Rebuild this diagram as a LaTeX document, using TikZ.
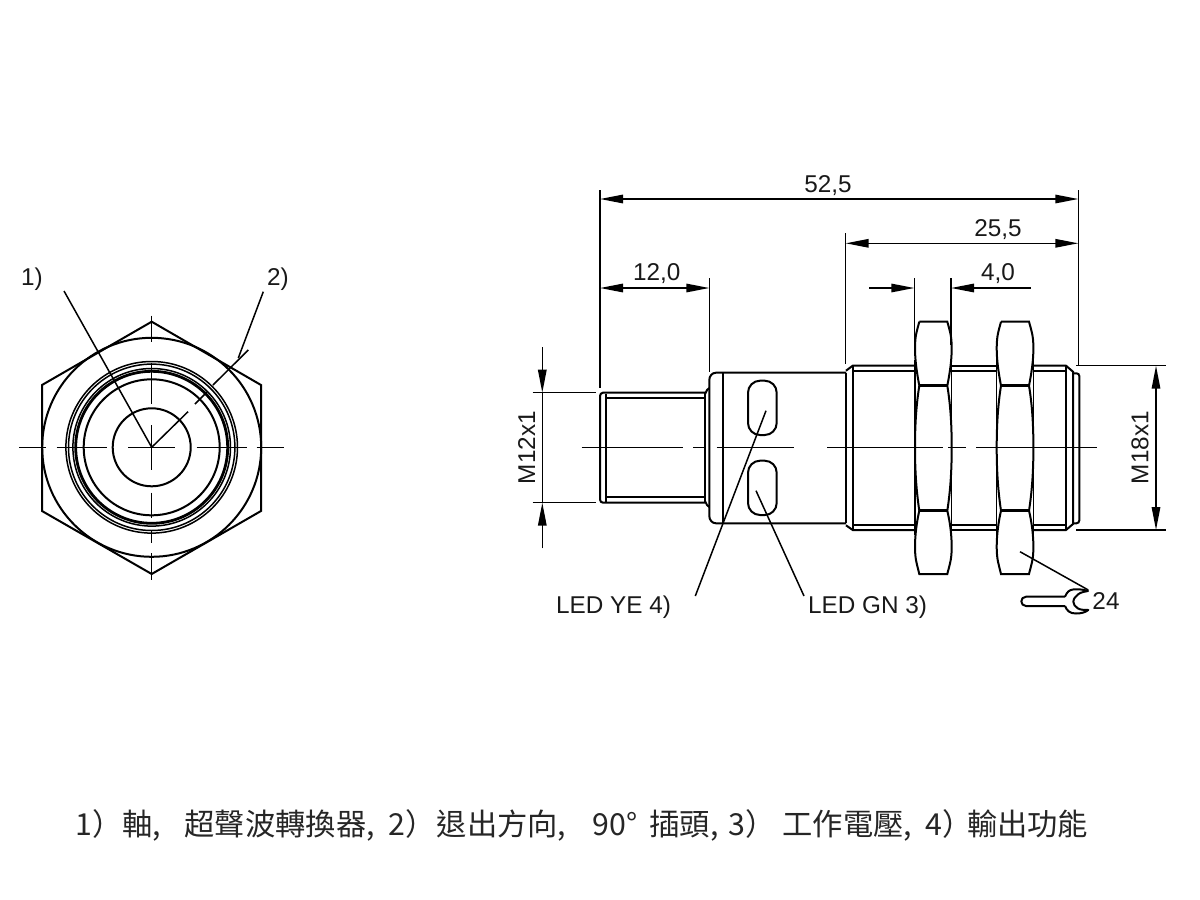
\documentclass[tikz,border=0pt]{standalone}
\usepackage{fontspec}
\usetikzlibrary{arrows.meta}
\setmainfont{Liberation Sans}
\newfontfamily\cjk{Noto Sans CJK TC}
\tikzset{
  thinl/.style={line width=1.5pt,black},
  outl/.style={line width=2pt,black},
  thick3/.style={line width=2.8pt,black},
  lab/.style={font=\fontsize{24.3}{24.3}\selectfont,text=black!90,inner sep=0pt},
  dimhead/.style={-{Triangle[length=23pt,width=8.5pt]}},
  dimboth/.style={{Triangle[length=23pt,width=8.5pt]}-{Triangle[length=23pt,width=8.5pt]}},
}
\begin{document}
\begin{tikzpicture}[x=1pt,y=-1pt]
\useasboundingbox (0,0) rectangle (1200,900);
\fill[white] (0,0) rectangle (1200,900);
% ---------- front view
\coordinate (c) at (151.7,447.3);
\draw[outl] (151.7,321.7)--(261,385)--(261,511)--(151.7,574)--(42,511)--(42,385)--cycle;
\draw[outl] (c) circle[radius=109.5];
\draw[thinl] (c) circle[radius=85.8];
\draw[thinl] (c) circle[radius=83.2];
\draw[thinl] (c) circle[radius=78.8];
\draw[thick3] (c) circle[radius=76];
\draw[outl] (c) circle[radius=68];
\draw[outl] (c) circle[radius=39];
\foreach \a/\b in {19/45.7,56.7/106.7,128/175,196.7/246.7,256.7/284}
  \draw[thinl] (\a,447.3)--(\b,447.3);
\foreach \a/\b in {315.7/341.7,362.7/404,425/470,492.7/518,530/542.7,553.3/580}
  \draw[thinl] (151.7,\a)--(151.7,\b);
\node[lab] (n1) at (32,279) {1)};
\node[lab] (n2) at (278,279) {2)};
\coordinate (n1e) at (64,291);
\coordinate (n2e) at (263.3,291.7);
\draw[thinl] (n1e)--(c);
\draw[thinl] (n2e)--(238.3,358);
\draw[thinl] (c)--(188,411.7);
\draw[thinl] (195,404)--(207,392);
\draw[thinl] (213,385)--(248.3,350);
% ---------- side view: stud
\draw[outl] (705,392.7)--(603,392.7)to[out=180,in=90](600,396)--(600,499.5)to[out=270,in=180](603,502.7)--(705,502.7);
\draw[outl] (605.7,394)--(605.7,501.5);
\draw[outl] (605.7,398.3)--(705,398.3)--(705,497.3)--(605.7,497.3);
\draw[outl] (705,392.7)--(705,502.7);
\draw[outl] (705,394)--(707,390)--(709.3,388);
\draw[outl] (705,501)--(707,505)--(709.3,507);
% body
\draw[outl] (846,372.7)--(716,372.7)to[out=180,in=90](709.3,380)--(709.3,516)to[out=270,in=180](716,523.3)--(846,523.3);
\draw[outl] (722.7,372.7)--(722.7,523.3);
\draw[outl,rounded corners=12pt] (748,380.7) rectangle (776.7,435);
\draw[outl,rounded corners=12pt] (748,460.7) rectangle (776.7,515);
% threaded part
\draw[outl] (846,372.7)--(846,523.3);
\draw[outl] (846,370.7)--(852.7,365.7)--(915,365.7);
\draw[outl] (846,525.3)--(852.7,530)--(915,530);
\draw[outl] (852.7,365.7)--(852.7,530);
\draw[outl] (852.7,370.7)--(915,370.7);
\draw[outl] (852.7,525)--(915,525);
\draw[outl] (951.7,365.7)--(996.7,365.7);
\draw[outl] (951.7,370.7)--(996.7,370.7);
\draw[outl] (951.7,525)--(996.7,525);
\draw[outl] (951.7,530)--(996.7,530);
\draw[outl] (1033.3,365.7)--(1066,365.7)--(1073,371.7)--(1073,524)--(1066,530)--(1033.3,530);
\draw[outl] (1033.3,370.7)--(1066,370.7);
\draw[outl] (1033.3,525)--(1066,525);
\draw[outl] (1066,365.7)--(1066,530);
\draw[outl] (1073,373.3)--(1076.5,373.3)to[out=0,in=90](1079.3,376)--(1079.3,520.5)to[out=270,in=0](1076.5,523.3)--(1073,523.3);
% nuts
\foreach \x in {915,996.7}{
  \begin{scope}[shift={(\x,0)}]
  \draw[outl,fill=white] (4.3,321.7)--(32.3,321.7) .. controls (34.5,330) and (36.7,335) .. (36.7,348)
    .. controls (36.7,360) and (35,372) .. (32.3,385.7)
    .. controls (35.5,405) and (36.7,425) .. (36.7,447.5) .. controls (36.7,470) and (35.5,490) .. (32.3,510.7)
    .. controls (35,522) and (36.7,535) .. (36.7,547) .. controls (36.7,560) and (34.5,565) .. (32.3,574)
    --(4.3,574) .. controls (2.2,565) and (0,560) .. (0,547) .. controls (0,535) and (1.7,522) .. (4.3,510.7)
    .. controls (1.2,490) and (0,470) .. (0,447.5) .. controls (0,425) and (1.2,405) .. (4.3,385.7)
    .. controls (1.7,372) and (0,360) .. (0,348) .. controls (0,335) and (2.2,330) .. (4.3,321.7);
  \draw[thick3] (4.3,385.7)--(32.3,385.7);
  \draw[thick3] (4.3,510.7)--(32.3,510.7);
  \draw[thinl] (0,360)--(0,535);
  \draw[thinl] (36.7,360)--(36.7,535);
  \end{scope}
}
% centre line
\foreach \a/\b in {581.7/682.7,693.3/705,716.7/794.3,827/942.7,948/966,976/1097}
  \draw[thinl] (\a,447.7)--(\b,447.7);
% leaders
\node[lab,anchor=west] (ye) at (556,607) {LED YE 4)};
\node[lab,anchor=west] (gn) at (808,607) {LED GN 3)};
\coordinate (yee) at (695.3,596);
\coordinate (gne) at (804,596);
\draw[thinl] (766,410.7)--(yee);
\draw[thinl] (756,490.7)--(gne);
\node[lab] (s24) at (1106,601) {24};
\coordinate (we) at (1088.3,590);
\draw[thinl] (1020,551.7)--(we);
% wrench
\draw[outl,line join=round] (1065,596.7)--(1026,596.7) .. controls (1019.8,596.7) and (1019.8,606) .. (1026,606) --(1065,606);
\draw[outl,line join=round] (1065,596.7) .. controls (1067,592) and (1069,590) .. (1073,589.5)
  .. controls (1078,589) and (1084,589.5) .. (1088,591)
  .. controls (1082,592) and (1079,593) .. (1077,595.5)
  .. controls (1074,598) and (1073.3,600) .. (1073.3,601.7)
  .. controls (1073.3,604) and (1075,607) .. (1078,608.5)
  .. controls (1081,610) and (1085,610) .. (1088.3,610)
  .. controls (1085,612.5) and (1081,613.5) .. (1076,613.5)
  .. controls (1070,613.5) and (1067,611) .. (1065,606);
% dimensions
\coordinate (a1) at (600,199); \coordinate (a2) at (1078.3,199);
\draw[thinl,dimboth] (a1)--(a2);
\coordinate (b1) at (845.7,243.3); \coordinate (b2) at (1078.3,243.3);
\draw[thinl,dimboth] (b1)--(b2);
\coordinate (d1) at (600,288); \coordinate (d2) at (709.3,288);
\draw[thinl,dimboth] (d1)--(d2);
\draw[thinl] (600,190)--(600,388);
\draw[thinl] (1078.3,190)--(1078.3,365);
\draw[thinl] (845.7,233)--(845.7,364);
\draw[thinl] (709.3,278)--(709.3,372);
\draw[thinl] (914.3,278)--(914.3,345);
\draw[thinl] (951,278)--(951,345);
\coordinate (e1) at (914.3,288); \coordinate (e2) at (951,288);
\draw[thinl,dimhead] (869,288)--(e1);
\draw[thinl,dimhead] (1030.7,288)--(e2);
\node[lab] (t1) at (828,185.5) {52,5};
\node[lab] (t2) at (998,229.5) {25,5};
\node[lab] (t3) at (656.7,274) {12,0};
\node[lab] (t4) at (998,274) {4,0};
% M12
\draw[thinl] (532.7,392.7)--(596,392.7);
\draw[thinl] (532.7,502.7)--(596,502.7);
\coordinate (m1) at (542.3,392.7); \coordinate (m2) at (542.3,502.7);
\draw[thinl,dimhead] (542.3,347.3)--(m1);
\draw[thinl,dimhead] (542.3,548.3)--(m2);
\draw[thinl] (m1)--(m2);
\node[lab,rotate=90] (t5) at (526.7,447.7) {M12x1};
% M18
\draw[thinl] (1076,365.7)--(1166,365.7);
\draw[thinl] (1076,530)--(1166,530);
\coordinate (r1) at (1156,365.7); \coordinate (r2) at (1156,530);
\draw[thinl,dimboth] (r1)--(r2);
\node[lab,rotate=90] (t6) at (1140,447.7) {M18x1};
% caption
\node[anchor=west,inner sep=0pt,text=black!85,font=\cjk\fontsize{30.3}{30.3}\selectfont] (cap) at (75,825)
 {1）軸, \ \hspace{10pt}超聲波轉換器,\hspace{7pt} 2）\hspace{1pt}退出方向, \ \hspace{13pt}90°\hspace{5pt} 插頭,\hspace{3pt} 3）\hspace{7pt}工作電壓,\hspace{7pt} 4）\hspace{-6pt}輸出功能};
\end{tikzpicture}
\end{document}
